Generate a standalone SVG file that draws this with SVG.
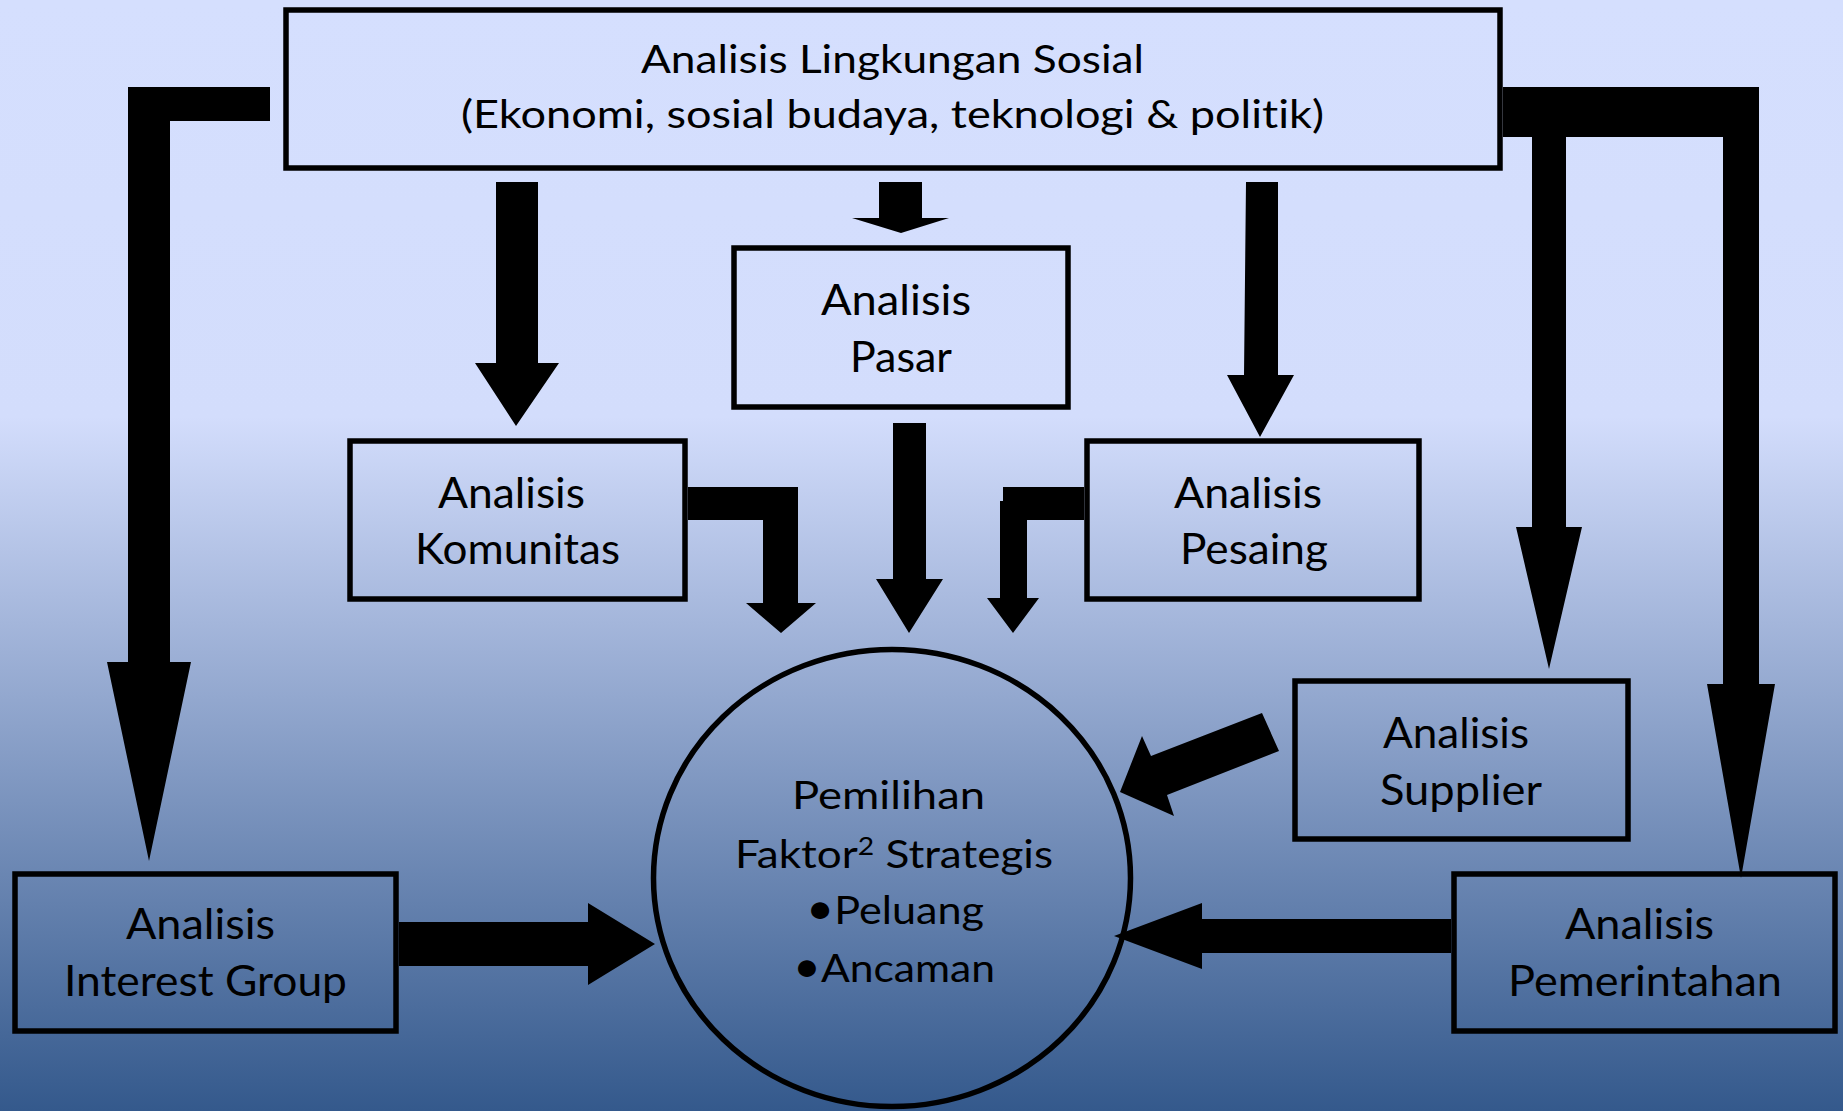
<svg xmlns="http://www.w3.org/2000/svg" width="1843" height="1111" viewBox="0 0 1843 1111">
  <defs>
    <linearGradient id="bg" gradientUnits="userSpaceOnUse" x1="0" y1="0" x2="0" y2="1111">
      <stop offset="0" stop-color="#D5DFFE"/>
      <stop offset="0.375" stop-color="#D3DDFC"/>
      <stop offset="1" stop-color="#34598C"/>
    </linearGradient>
    <style>
      .box { fill: none; stroke: #000; stroke-width: 5.5; }
      .arr { fill: #000; stroke: none; }
      .t { font-family: Lato, "Liberation Sans", sans-serif; fill: #000; font-variant-ligatures: none; }
      .big { font-size: 42px; }
      .mid { font-size: 39px; }
    </style>
  </defs>
  <rect x="0" y="0" width="1843" height="1111" fill="url(#bg)"/>

  <g id="connectors">
    <polygon class="arr" points="270,87 128,87 128,662 107,662 149,861 191,662 170,662 170,121 270,121"/>
    <polygon class="arr" points="1503,87 1759,87 1759,684 1775,684 1741,878 1707,684 1723,684 1723,137 1566,137 1566,527 1582,527 1549,669 1516,527 1532,527 1532,137 1503,137"/>
    <polygon class="arr" points="496,182 538,182 538,363 559,363 516,426 475,363 496,363"/>
    <polygon class="arr" points="879,182 922,182 922,218 949,218 901,233 852,218 879,218"/>
    <polygon class="arr" points="1246,182 1278,182 1278,375 1294,375 1260,437 1227,375 1244,375"/>
    <polygon class="arr" points="893,423 926,423 926,579 943,579 909,633 876,579 893,579"/>
    <polygon class="arr" points="688,487 798,487 798,603 816,603 781,633 746,603 763,603 763,520 688,520"/>
    <polygon class="arr" points="1084,487 1003,487 1003,501 1000,501 1000,598 987,598 1013,633 1039,598 1027,598 1027,520 1084,520"/>
    <polygon class="arr" points="1262,713 1151,756 1142,736 1120,792 1174,816 1167,795 1279,751"/>
    <polygon class="arr" points="1451,919 1202,919 1202,903 1114,936 1202,969 1202,953 1451,953"/>
    <polygon class="arr" points="399,922 588,922 588,903 655,944 588,985 588,966 399,966"/>
  </g>

  <g id="lingkungan">
    <rect class="box" x="286" y="10" width="1214" height="158"/>
    <text class="t mid" x="641" y="73" textLength="503" lengthAdjust="spacingAndGlyphs">Analisis Lingkungan Sosial</text>
    <text class="t mid" x="461" y="128" textLength="863" lengthAdjust="spacingAndGlyphs">(Ekonomi, sosial budaya, teknologi &amp; politik)</text>
  </g>

  <g id="pasar">
    <rect class="box" x="734" y="248" width="334" height="159"/>
    <text class="t big" x="821" y="315" textLength="150" lengthAdjust="spacingAndGlyphs">Analisis</text>
    <text class="t big" x="850" y="372" textLength="102" lengthAdjust="spacingAndGlyphs">Pasar</text>
  </g>

  <g id="komunitas">
    <rect class="box" x="350" y="441" width="335" height="158"/>
    <text class="t big" x="438" y="508" textLength="147" lengthAdjust="spacingAndGlyphs">Analisis</text>
    <text class="t big" x="415" y="564" textLength="205" lengthAdjust="spacingAndGlyphs">Komunitas</text>
  </g>

  <g id="pesaing">
    <rect class="box" x="1087" y="441" width="332" height="158"/>
    <text class="t big" x="1174" y="508" textLength="148" lengthAdjust="spacingAndGlyphs">Analisis</text>
    <text class="t big" x="1180" y="564" textLength="148" lengthAdjust="spacingAndGlyphs">Pesaing</text>
  </g>

  <g id="supplier">
    <rect class="box" x="1295" y="681" width="333" height="158"/>
    <text class="t big" x="1383" y="748" textLength="146" lengthAdjust="spacingAndGlyphs">Analisis</text>
    <text class="t big" x="1380" y="805" textLength="162" lengthAdjust="spacingAndGlyphs">Supplier</text>
  </g>

  <g id="pemerintahan">
    <rect class="box" x="1454" y="874" width="381" height="157"/>
    <text class="t big" x="1565" y="939" textLength="149" lengthAdjust="spacingAndGlyphs">Analisis</text>
    <text class="t big" x="1508" y="996" textLength="274" lengthAdjust="spacingAndGlyphs">Pemerintahan</text>
  </g>

  <g id="interest-group">
    <rect class="box" x="15" y="874" width="381" height="157"/>
    <text class="t big" x="126" y="939" textLength="149" lengthAdjust="spacingAndGlyphs">Analisis</text>
    <text class="t big" x="64" y="996" textLength="283" lengthAdjust="spacingAndGlyphs">Interest Group</text>
  </g>

  <g id="pemilihan">
    <ellipse class="box" cx="892" cy="878" rx="238.5" ry="228.5"/>
    <text class="t mid" x="792" y="809" textLength="193" lengthAdjust="spacingAndGlyphs">Pemilihan</text>
    <text class="t mid" x="735" y="868" textLength="318" lengthAdjust="spacingAndGlyphs">Faktor<tspan font-size="25" dy="-13">2</tspan><tspan dy="13"> Strategis</tspan></text>
    <text class="t mid" x="806" y="924" textLength="178" lengthAdjust="spacingAndGlyphs"><tspan font-size="44">•</tspan>Peluang</text>
    <text class="t mid" x="793" y="982" textLength="202" lengthAdjust="spacingAndGlyphs"><tspan font-size="44">•</tspan>Ancaman</text>
  </g>
</svg>
